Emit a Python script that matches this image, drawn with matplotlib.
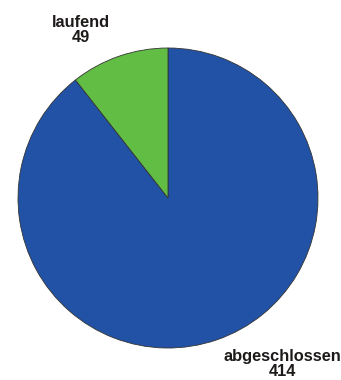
import matplotlib
matplotlib.use("Agg")
import matplotlib.pyplot as plt

categories = ["abgeschlossen", "laufend"]
values = [414, 49]
colors = ["#2152a6", "#62bd45"]

plt.rcParams['font.family'] = ['Liberation Sans', 'DejaVu Sans']
fig = plt.figure(figsize=(3.41, 3.80), dpi=100)
ax = fig.add_axes([18/341, 32/380, 300/341, 300/380])
ax.pie(values, colors=colors, startangle=90, counterclock=False,
       wedgeprops=dict(edgecolor="#333333", linewidth=0.6), radius=1.0)
ax.set_xlim(-1, 1)
ax.set_ylim(-1, 1)
ax.set_aspect('auto')
ax.axis('off')

label_pos = {"laufend": (-0.58, 1.12), "abgeschlossen": (0.76, -1.107)}
for c, v in zip(categories, values):
    x, y = label_pos[c]
    ax.text(x, y, f"{c}\n{v}", ha="center", va="center", fontsize=11.8,
            fontweight="bold", color="#1e1a1a", linespacing=1.0, clip_on=False)

fig.savefig("out.png", dpi=100)
